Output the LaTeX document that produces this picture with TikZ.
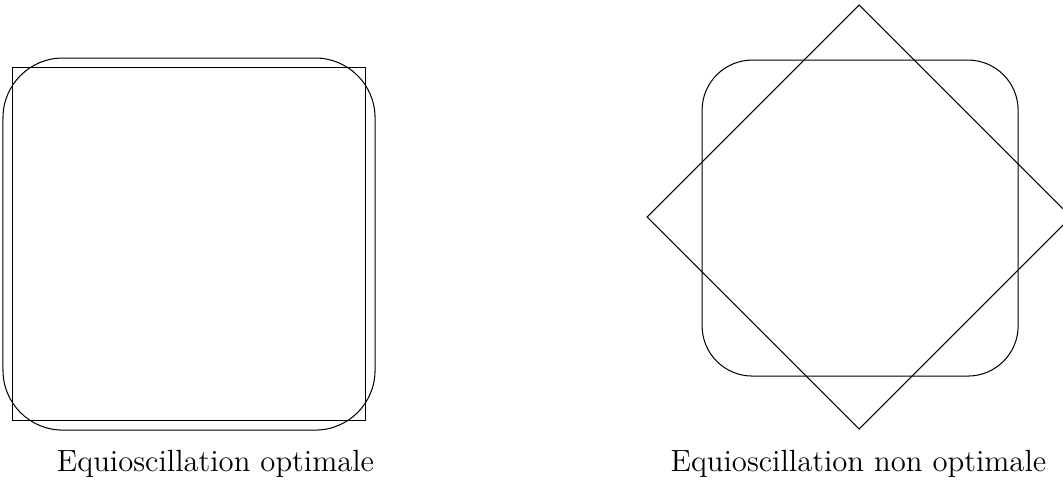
\documentclass[tikz,border=0pt]{standalone}

\begin{document}
\begin{tikzpicture}[x=1cm, y=1cm, font=\large]
  \useasboundingbox (0,0) rectangle (14.60,6.635);
  % --- equioscillation optimale ---
  \draw (0.165,0.865) rectangle (5.014,5.714);
  \draw[rounded corners=0.82cm] (0.041,0.728) rectangle (5.151,5.838);
  \node (lblopt) at (2.96,0.27) {Equioscillation optimale};
  % --- equioscillation non optimale ---
  \draw[rounded corners=0.69cm] (9.643,1.470) rectangle (13.984,5.810);
  \draw (11.80,6.566) -- (14.712,3.654) -- (11.80,0.742) -- (8.888,3.654) -- cycle;
  \node (lblnonopt) at (11.79,0.27) {Equioscillation non optimale};
\end{tikzpicture}
\end{document}
